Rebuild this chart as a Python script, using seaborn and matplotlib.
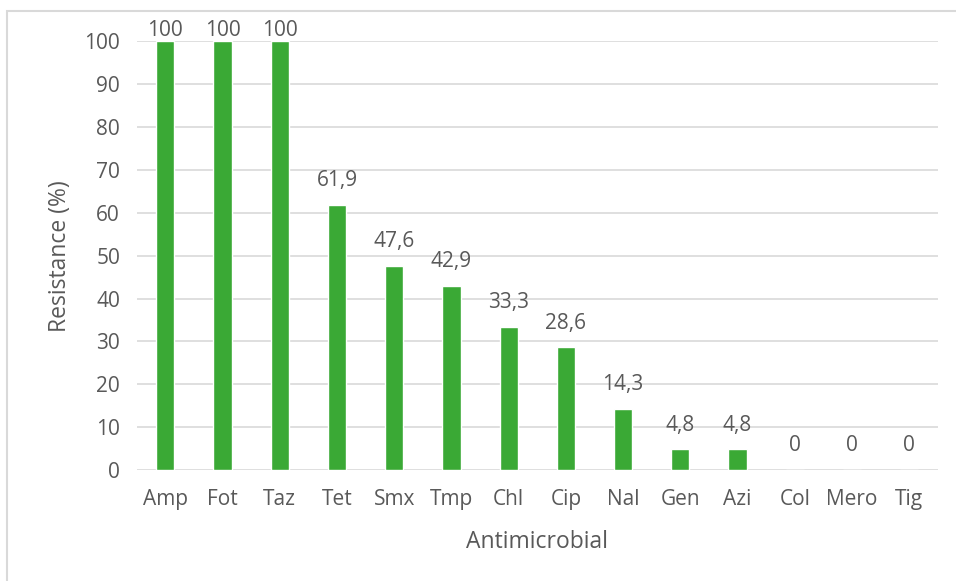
import matplotlib
matplotlib.use("Agg")
import matplotlib.pyplot as plt
from matplotlib.patches import Rectangle
import seaborn as sns
import pandas as pd

antimicrobials = ["Amp", "Fot", "Taz", "Tet", "Smx", "Tmp", "Chl", "Cip",
                  "Nal", "Gen", "Azi", "Col", "Mero", "Tig"]
resistance = [100, 100, 100, 61.9, 47.6, 42.9, 33.3, 28.6, 14.3, 4.8, 4.8, 0, 0, 0]
y_ticks = list(range(0, 101, 10))

df = pd.DataFrame({"Antimicrobial": antimicrobials, "Resistance": resistance})

sns.set_theme(style="white")
plt.rcParams["font.family"] = ["Open Sans", "DejaVu Sans"]
text_color = "#595959"
grid_color = "#d9d9d9"
bar_color = "#3aa935"

fig = plt.figure(figsize=(9.56, 5.81), dpi=100)
ax = fig.add_axes([0.143, 0.191, 0.838, 0.738])

sns.barplot(data=df, x="Antimicrobial", y="Resistance", color=bar_color,
            width=0.32, saturation=1, ax=ax, zorder=3)

ax.set_ylim(0, 100)
ax.set_yticks(y_ticks)
ax.set_xlim(-0.5, len(antimicrobials) - 0.5)
ax.grid(axis="y", color=grid_color, linewidth=1.2, zorder=0)
ax.set_axisbelow(True)
for s in ax.spines.values():
    s.set_visible(False)
ax.tick_params(axis="both", length=0, labelsize=15, labelcolor=text_color)
ax.tick_params(axis="x", pad=14)
ax.tick_params(axis="y", pad=12)

ax.set_xlabel("Antimicrobial", fontsize=16.5, color=text_color, labelpad=14)
ax.set_ylabel("Resistance (%)", fontsize=16.5, color=text_color, labelpad=9)

# value labels above each bar, comma as decimal separator
for i, v in enumerate(resistance):
    txt = f"{v:g}".replace(".", ",")
    off = 0 if v >= 100 else 10
    ax.annotate(txt, xy=(i, v), xytext=(0, off), textcoords="offset points",
                ha="center", va="bottom", fontsize=15, color=text_color,
                annotation_clip=False)

# thin frame around the chart area (right and bottom edges run off the canvas)
fig.patches.append(Rectangle((0.007, -0.05), 1.05, 1.031, transform=fig.transFigure,
                             fill=False, edgecolor=grid_color, linewidth=1.5))

fig.savefig("out.png", dpi=100)
